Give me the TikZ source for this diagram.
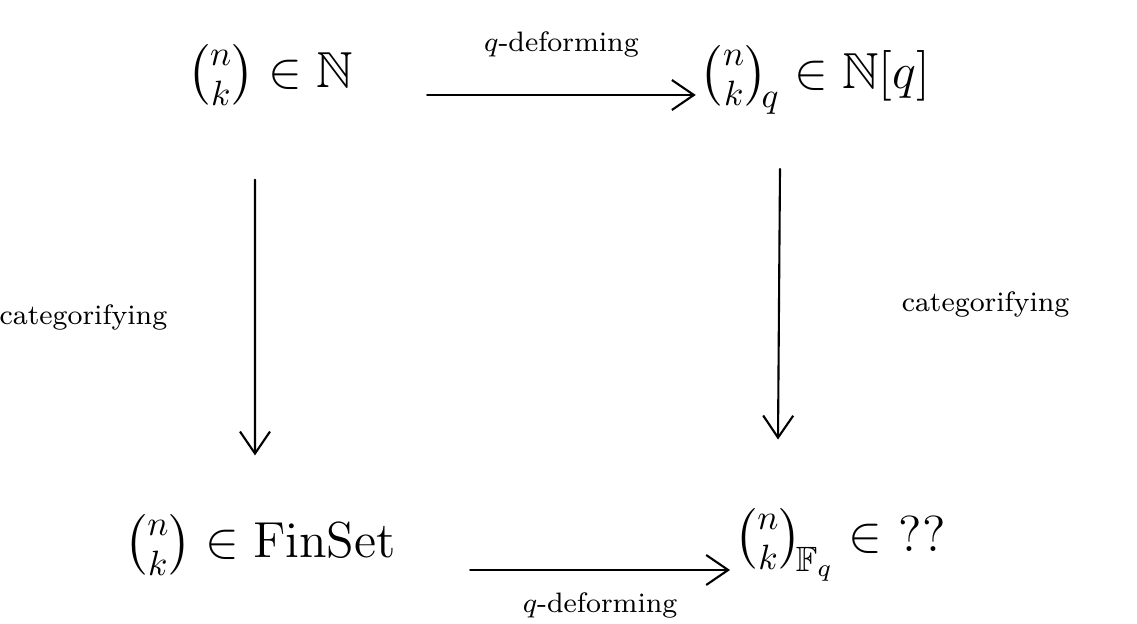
\documentclass[tikz,border=0pt]{standalone}
\usepackage{amsmath,amssymb}
\usetikzlibrary{arrows.meta}
\begin{document}
\begin{tikzpicture}[
  line cap=round,
  obj/.style={font=\Large, inner sep=1pt},
  lbl/.style={font=\footnotesize},
  arr/.style={line width=0.6pt, -{Straight Barb[length=2.2mm,width=3mm]}}
]
  \useasboundingbox (0,0) rectangle (11.37,-6.24);

  % objects
  \node[obj] (tl) at (2.7,-0.75) {$\tbinom{n}{k}\in\mathbb{N}$};
  \node[obj] (tr) at (8.15,-0.8) {$\tbinom{n}{k}_{\!q}\in\mathbb{N}[q]$};
  \node[obj] (bl) at (2.6,-5.45) {$\tbinom{n}{k}\in\mathrm{FinSet}$};
  \node[obj] (br) at (8.4,-5.45) {$\tbinom{n}{k}_{\!\mathbb{F}_q}\in\ ??$};

  % q-deforming
  \draw[arr] ([xshift=7mm,yshift=-2mm]tl.east) -- ([yshift=-2mm]tl.east -| tr.west)
    node[lbl, midway, above=2.5mm] {$q$-deforming};
  \draw[arr] ([xshift=7mm,yshift=-2.5mm]bl.east) -- ([yshift=-2.5mm]bl.east -| br.west)
    node[lbl, midway, below=1mm] {$q$-deforming};

  % categorifying
  \draw[arr] ([xshift=-1.5mm,yshift=-7mm]tl.south) -- ([xshift=-0.5mm,yshift=5.5mm]bl.north)
    node[lbl, midway, left=7.5mm] {categorifying};
  \draw[arr] ([xshift=-3.5mm,yshift=-5mm]tr.south) -- ([xshift=-6.2mm,yshift=6.5mm]br.north)
    node[lbl, midway, right=11mm] {categorifying};
\end{tikzpicture}
\end{document}
